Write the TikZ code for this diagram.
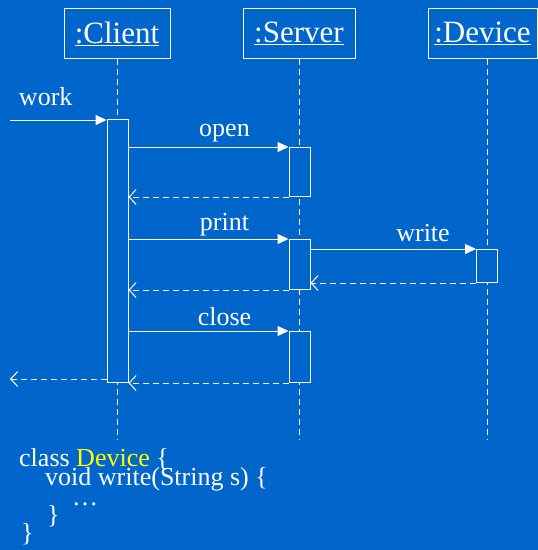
\documentclass[tikz,border=0pt]{standalone}
\usepackage{fontspec}
\setmainfont{Liberation Serif}
\usetikzlibrary{arrows.meta}
\definecolor{slide}{HTML}{0066CC}
\definecolor{kw}{HTML}{FFFF00}

\begin{document}
\begin{tikzpicture}[x=1pt,y=-1pt,
    obj/.style={draw=white,line width=1pt,minimum height=50pt,inner sep=0pt,
      text=white,font=\fontsize{31}{31}\selectfont},
    act/.style={draw=white,fill=slide,line width=1pt,minimum width=21pt,
      inner sep=0pt,anchor=north},
    life/.style={white,line width=1pt,dash pattern=on 6pt off 4pt},
    call/.style={white,line width=1pt,-{Triangle[length=11pt,width=10pt]}},
    reply/.style={white,line width=1pt,dash pattern=on 6pt off 4pt,
      -{Straight Barb[length=7pt,width=15pt]}},
    lbl/.style={text=white,anchor=base,inner sep=0pt,
      font=\fontsize{26}{26}\selectfont},
    code/.style={text=white,anchor=base west,inner sep=0pt,
      font=\fontsize{26}{26}\selectfont}]
  \useasboundingbox (0,0) rectangle (538,550);
  \clip (0,0) rectangle (538,550);
  \fill[slide] (0,0) rectangle (538,550);

  % objects
  \node[obj,minimum width=106pt] (client) at (117,33.5) {\underline{:Client}};
  \node[obj,minimum width=112pt] (server) at (299,33.5) {\underline{:Server}};
  \node[obj,minimum width=109pt] (device) at (482.5,33.5) {\underline{:Device}};

  % lifelines
  \coordinate (cend) at (117.5,440);
  \coordinate (send) at (299.5,440);
  \coordinate (dend) at (487,440);
  \draw[life] (client.south -| cend) -- (cend);
  \draw[life] (server.south -| send) -- (send);
  \draw[life] (device.south -| dend) -- (dend);

  % activations
  \node[act,minimum height=263pt] (ca) at (117.5,119) {};
  \node[act,minimum height=49pt] (sa1) at (299.5,147) {};
  \node[act,minimum height=50pt] (sa2) at (299.5,239) {};
  \node[act,minimum height=51pt] (sa3) at (299.5,331) {};
  \node[act,minimum height=33pt] (da) at (487,249) {};

  % messages
  \coordinate (in) at (10,120);
  \coordinate (out) at (10,379);
  \draw[call] (in) -- node[lbl,pos=.37,yshift=15pt]{work} (ca.west |- in);
  \draw[call] (ca.east |- sa1.north west) -- node[lbl,pos=.6,yshift=10.5pt]{open} (sa1.north west);
  \draw[reply] (sa1.south west) -- (ca.east |- sa1.south west);
  \draw[call] (ca.east |- sa2.north west) -- node[lbl,pos=.6,yshift=9pt]{print} (sa2.north west);
  \draw[call] (sa2.east |- da.north west) -- node[lbl,pos=.68,yshift=8pt]{write} (da.north west);
  \draw[reply] (da.south west) -- (sa2.east |- da.south west);
  \draw[reply] (sa2.south west) -- (ca.east |- sa2.south west);
  \draw[call] (ca.east |- sa3.north west) -- node[lbl,pos=.6,yshift=6pt]{close} (sa3.north west);
  \draw[reply] (sa3.south west) -- (ca.south east);
  \draw[reply] (ca.west |- out) -- (out);

  % code
  \node[code] (l1) at (19,466) {class \textcolor{kw}{Device} \{};
  \node[code] (l2) at (45,485) {void write(String s) \{};
  \node[code] (l3) at (72,505) {\dots};
  \node[code] (l4) at (47,523) {\}};
  \node[code] (l5) at (21,541) {\}};
\end{tikzpicture}
\end{document}
